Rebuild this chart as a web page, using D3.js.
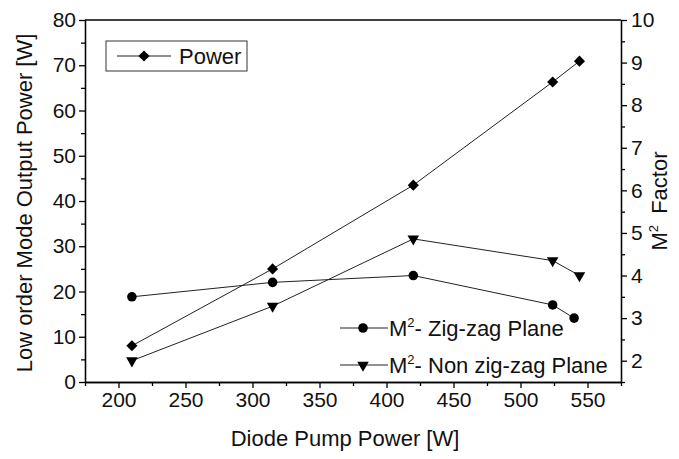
<!DOCTYPE html>
<html>
<head>
<meta charset="utf-8">
<script src="https://cdn.jsdelivr.net/npm/d3@7/dist/d3.min.js"></script>
<style>
  html, body { margin: 0; padding: 0; background: #fff; overflow: hidden; }
  svg { display: block; }
</style>
</head>
<body><svg id="chart" width="679" height="459"></svg>
<script>
// données
const powerPump = [210, 315, 420, 524, 544];
const powerValues = [8, 25, 43.5, 66.3, 70.9];
const zigzagPump = [210, 315, 420, 524, 540];
const zigzagValues = [3.5, 3.84, 4.0, 3.31, 3.0];
const nonZigzagPump = [210, 315, 420, 524, 544];
const nonZigzagValues = [2.0, 3.28, 4.86, 4.35, 4.0];

const xTicks = [200, 250, 300, 350, 400, 450, 500, 550];
const leftTicks = [0, 10, 20, 30, 40, 50, 60, 70, 80];
const rightTicks = [2, 3, 4, 5, 6, 7, 8, 9, 10];

const width = 679, height = 459;
const margin = { top: 20, right: 58, bottom: 77, left: 85 };
const innerWidth = width - margin.left - margin.right;
const innerHeight = height - margin.top - margin.bottom;
const font = 'Arial, "Liberation Sans", sans-serif';

const svg = d3.select('#chart').attr('font-family', font);
const g = svg.append('g').attr('transform', `translate(${margin.left},${margin.top})`);

const x = d3.scaleLinear().domain([175, 575]).range([0, innerWidth]);
const yLeft = d3.scaleLinear().domain([0, 80]).range([innerHeight, 0]);
const yRight = d3.scaleLinear().domain([1.5, 10]).range([innerHeight, 0]);

// ticks mineurs (sans texte)
const xMinor = d3.range(175, 576, 25).filter(v => v % 50 !== 0);
const leftMinor = d3.range(5, 80, 10);
const rightMinor = d3.range(1.5, 10, 1);

function styleAxis(sel, keepLabels) {
  sel.attr('font-size', 21).attr('font-family', font);
  sel.selectAll('path, line').attr('stroke', '#000').attr('stroke-width', 1.3);
  if (keepLabels) sel.selectAll('text').attr('fill', '#111');
  else sel.selectAll('text').remove();
}

g.append('g')
  .attr('transform', `translate(0,${innerHeight})`)
  .call(d3.axisBottom(x).tickValues(xMinor).tickSize(4).tickSizeOuter(0))
  .call(styleAxis, false);
g.append('g')
  .attr('transform', `translate(0,${innerHeight})`)
  .call(d3.axisBottom(x).tickValues(xTicks).tickSize(6).tickPadding(4).tickSizeOuter(0))
  .call(styleAxis, true);

g.append('g')
  .call(d3.axisLeft(yLeft).tickValues(leftMinor).tickSize(4).tickSizeOuter(0))
  .call(styleAxis, false);
g.append('g')
  .call(d3.axisLeft(yLeft).tickValues(leftTicks).tickSize(6).tickPadding(3).tickSizeOuter(0))
  .call(styleAxis, true);

g.append('g')
  .attr('transform', `translate(${innerWidth},0)`)
  .call(d3.axisRight(yRight).tickValues(rightMinor).tickSize(4).tickSizeOuter(0))
  .call(styleAxis, false);
g.append('g')
  .attr('transform', `translate(${innerWidth},0)`)
  .call(d3.axisRight(yRight).tickValues(rightTicks).tickSize(6).tickPadding(4).tickSizeOuter(0))
  .call(styleAxis, true);

// bord supérieur
g.append('line')
  .attr('x1', 0).attr('x2', innerWidth).attr('y1', 0).attr('y2', 0)
  .attr('stroke', '#000').attr('stroke-width', 1.3);

// symboles
const diamond = d3.symbol().type(d3.symbolSquare).size(62);
const circle = d3.symbol().type(d3.symbolCircle).size(72);
const triangle = d3.symbol().type(d3.symbolTriangle).size(58);

function drawSeries(xs, ys, yScale, sym, rot) {
  const pts = xs.map((v, i) => [x(v), yScale(ys[i])]);
  g.append('path').attr('d', d3.line()(pts))
    .attr('fill', 'none').attr('stroke', '#222').attr('stroke-width', 1);
  g.selectAll(null).data(pts).enter().append('path')
    .attr('d', sym)
    .attr('fill', '#000')
    .attr('transform', d => `translate(${d[0]},${d[1]}) rotate(${rot})`);
}

drawSeries(powerPump, powerValues, yLeft, diamond, 45);
drawSeries(zigzagPump, zigzagValues, yRight, circle, 0);
drawSeries(nonZigzagPump, nonZigzagValues, yRight, triangle, 180);

const title = () => svg.append('text').attr('font-size', 22).attr('fill', '#111');

// titres d'axes
title()
  .attr('text-anchor', 'middle')
  .attr('x', margin.left + innerWidth / 2 - 8)
  .attr('y', 446)
  .text('Diode Pump Power [W]');

title()
  .attr('text-anchor', 'middle')
  .attr('transform', `translate(32,${margin.top + innerHeight / 2 + 2}) rotate(-90)`)
  .text('Low order Mode Output Power [W]');

const rt = title()
  .attr('text-anchor', 'middle')
  .attr('transform', `translate(667,${margin.top + innerHeight / 2}) rotate(-90)`);
rt.append('tspan').text('M');
rt.append('tspan').attr('dy', -9).attr('font-size', 13).text('2');
rt.append('tspan').attr('dy', 9).attr('dx', 5).text(' Factor');

// légende Power
svg.append('rect')
  .attr('x', 106).attr('y', 41).attr('width', 141).attr('height', 30)
  .attr('fill', 'none').attr('stroke', '#333').attr('stroke-width', 1);
svg.append('line').attr('x1', 117).attr('x2', 171).attr('y1', 56).attr('y2', 56)
  .attr('stroke', '#222').attr('stroke-width', 1);
svg.append('path').attr('d', diamond).attr('fill', '#000')
  .attr('transform', 'translate(144,56) rotate(45)');
title().attr('x', 179).attr('y', 64).text('Power');

// légende M²
const legendItems = [
  { label: '- Zig-zag Plane', sym: circle, rot: 0, y: 328 },
  { label: '- Non zig-zag Plane', sym: triangle, rot: 180, y: 365 }
];
legendItems.forEach(item => {
  svg.append('line').attr('x1', 340).attr('x2', 388).attr('y1', item.y).attr('y2', item.y)
    .attr('stroke', '#222').attr('stroke-width', 1);
  svg.append('path').attr('d', item.sym).attr('fill', '#000')
    .attr('transform', `translate(363,${item.y}) rotate(${item.rot})`);
  const t = title().attr('x', 389).attr('y', item.y + 8);
  t.append('tspan').text('M');
  t.append('tspan').attr('dy', -9).attr('font-size', 13).text('2');
  t.append('tspan').attr('dy', 9).text(item.label);
});
</script>
</body>
</html>
